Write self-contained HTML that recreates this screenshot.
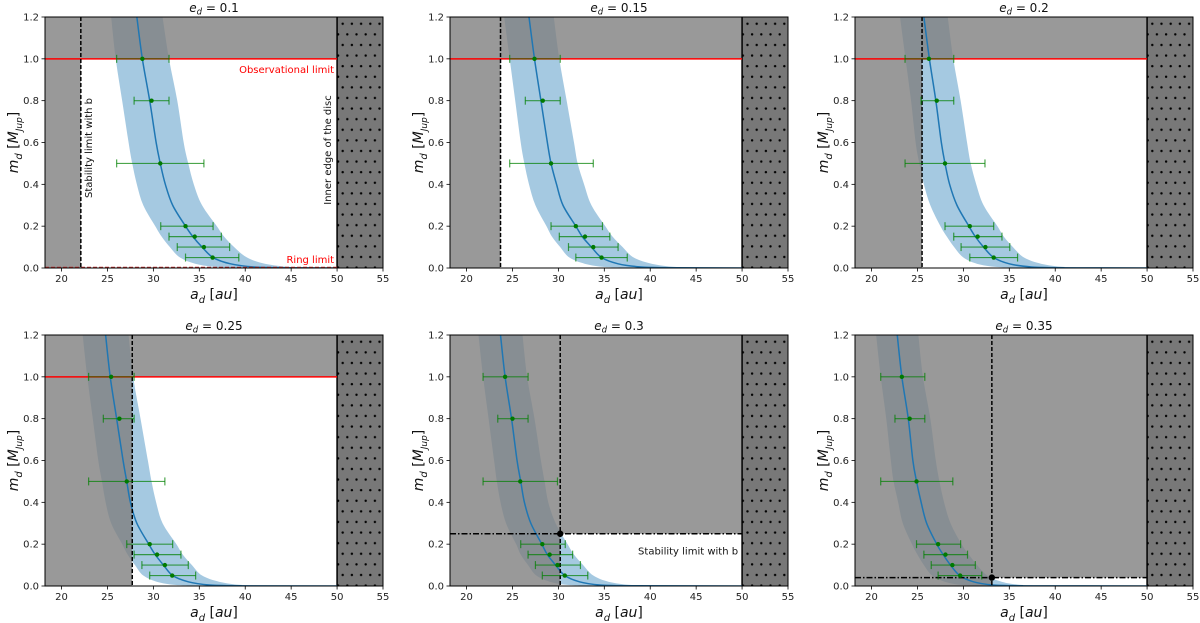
<!DOCTYPE html>
<html><head><meta charset="utf-8"><style>
html,body{margin:0;padding:0;background:#fff;}
svg{display:block;font-family:"DejaVu Sans","Liberation Sans",sans-serif;}
</style></head><body>
<svg id="fig" width="1200" height="623" viewBox="0 0 1200 623" xmlns="http://www.w3.org/2000/svg">
<defs>
<pattern id="dots" patternUnits="userSpaceOnUse" width="9.2" height="21.2" x="0" y="0">
<rect width="9.2" height="21.2" fill="#787878"/>
<circle cx="2.3" cy="2.6" r="1.2" fill="#000"/>
<circle cx="6.9" cy="13.2" r="1.2" fill="#000"/>
</pattern>
</defs>
</svg>
<script>
const mGrid=[1.2,1.0,0.8,0.6,0.5,0.4,0.3,0.2,0.15,0.1,0.05,0.02,0.005,0.001];
const eccLabels=["0.1","0.15","0.2","0.25","0.3","0.35"];
const curveCenter=[
[28.2,28.8,29.6,30.3,30.75,31.3,32.1,33.5,34.3,35.3,36.5,38.4,41.0,45.0],
[26.8,27.4,28.1,28.8,29.2,29.8,30.5,31.9,32.6,33.6,34.7,36.5,39.0,42.8],
[25.7,26.3,27.0,27.6,28.0,28.5,29.3,30.6,31.3,32.2,33.3,35.0,37.4,41.0],
[24.8,25.3,26.0,26.7,27.1,27.5,28.2,29.5,30.2,31.1,32.1,33.8,36.1,39.6],
[23.7,24.2,24.9,25.5,25.9,26.3,27.0,28.2,28.8,29.7,30.7,32.3,34.5,37.8],
[22.8,23.3,24.0,24.5,24.9,25.4,26.0,27.1,27.8,28.6,29.6,31.1,33.2,36.5]];
const bandLo=[
[25.4,25.9,26.6,27.3,27.7,28.2,28.9,30.2,30.9,31.8,32.9,34.6,36.9,40.5],
[24.1,24.7,25.3,25.9,26.3,26.8,27.5,28.7,29.3,30.2,31.2,32.9,35.1,38.5],
[23.1,23.7,24.3,24.8,25.2,25.7,26.4,27.5,28.2,29.0,30.0,31.5,33.7,36.9],
[22.3,22.8,23.4,24.0,24.4,24.8,25.4,26.6,27.2,28.0,28.9,30.4,32.5,35.6],
[21.3,21.8,22.4,23.0,23.3,23.7,24.3,25.4,25.9,26.7,27.6,29.1,31.1,34.0],
[20.5,21.0,21.6,22.1,22.4,22.9,23.4,24.4,25.0,25.7,26.6,28.0,29.9,32.9]];
const bandHi=[
[31.0,31.7,32.6,33.3,33.8,34.4,35.3,36.9,37.7,38.8,40.2,42.2,45.1,49.5],
[29.5,30.1,30.9,31.7,32.1,32.8,33.6,35.1,35.9,37.0,38.2,40.2,42.9,47.1],
[28.3,28.9,29.7,30.4,30.8,31.4,32.2,33.7,34.4,35.4,36.6,38.5,41.1,45.1],
[27.3,27.8,28.6,29.4,29.8,30.3,31.0,32.5,33.2,34.2,35.3,37.2,39.7,43.6],
[26.1,26.6,27.4,28.1,28.5,28.9,29.7,31.0,31.7,32.7,33.8,35.5,38.0,41.6],
[25.1,25.6,26.4,27.0,27.4,27.9,28.6,29.8,30.6,31.5,32.6,34.2,36.5,40.2]];
const errM=[1,0.8,0.5,0.2,0.15,0.1,0.05];
const errC=[
[28.8,29.8,30.75,33.5,34.5,35.5,36.45],
[27.4,28.3,29.2,31.9,32.9,33.8,34.7],
[26.25,27.1,28.0,30.7,31.55,32.4,33.3],
[25.4,26.3,27.1,29.6,30.4,31.25,32.05],
[24.2,25.0,25.85,28.25,29.05,29.9,30.7],
[23.3,24.15,24.9,27.25,28.05,28.8,29.65]];
const errLo=[
[26.0,27.9,26.0,30.8,31.7,32.6,33.5],
[24.7,26.4,24.7,29.2,30.1,31.1,31.9],
[23.65,25.4,23.65,28.0,28.95,29.75,30.7],
[22.95,24.55,22.95,27.1,27.9,28.75,29.6],
[21.8,23.4,21.8,25.9,26.7,27.5,28.25],
[21.0,22.55,21.0,24.9,25.7,26.5,27.25]];
const errHi=[
[31.7,31.7,35.5,36.5,37.4,38.3,39.3],
[30.2,30.2,33.8,34.8,35.6,36.5,37.5],
[28.95,28.95,32.35,33.3,34.2,35.05,35.9],
[27.9,27.9,31.25,32.1,33.0,33.8,34.6],
[26.7,26.7,29.9,30.75,31.55,32.4,33.2],
[25.8,25.8,28.85,29.7,30.45,31.3,32.0]];
const stabA=[22.1,23.7,25.5,27.7,30.2,33.1];
const stabM=[null,null,null,null,0.25,0.04];
const obsLimit=[1,1,1,1,null,null];
const discEdge=50;
const xTicks=[20,25,30,35,40,45,50,55];
const yTicks=[0,0.2,0.4,0.6,0.8,1.0,1.2];

const NS="http://www.w3.org/2000/svg";
const svg=document.getElementById('fig');
function mk(tag,attrs,parent){const e=document.createElementNS(NS,tag);for(const k in attrs)e.setAttribute(k,attrs[k]);(parent||svg).appendChild(e);return e;}
// Catmull-Rom smooth path through points (continuing an existing path if cont)
function smooth(pts,cont){
  let d=(cont?'L':'M')+pts[0][0]+','+pts[0][1];
  for(let i=0;i<pts.length-1;i++){
    const p0=pts[Math.max(0,i-1)],p1=pts[i],p2=pts[i+1],p3=pts[Math.min(pts.length-1,i+2)];
    const c1=[p1[0]+(p2[0]-p0[0])/6,p1[1]+(p2[1]-p0[1])/6];
    const c2=[p2[0]-(p3[0]-p1[0])/6,p2[1]-(p3[1]-p1[1])/6];
    d+='C'+c1[0]+','+c1[1]+' '+c2[0]+','+c2[1]+' '+p2[0]+','+p2[1];
  }
  return d;
}
const lefts=[45,450,855], tops=[17,335], W=338, H=251;
const XMIN=18.2, XMAX=55, YMIN=0, YMAX=1.2;

for(let p=0;p<6;p++){
  const L=lefts[p%3], T=tops[Math.floor(p/3)];
  const g=mk('g',{});
  
  
  const X=a=>L+(a-XMIN)/(XMAX-XMIN)*W;
  const Y=m=>T+H-(m-YMIN)/(YMAX-YMIN)*H;
  const clipId='clip'+p;
  const cp=mk('clipPath',{id:clipId},g); mk('rect',{x:L,y:T,width:W,height:H},cp);
  const pg=mk('g',{'clip-path':'url(#'+clipId+')'},g);
  // band
  const loPts=mGrid.map((m,i)=>[X(bandLo[p][i]),Y(m)]);
  const hiPts=mGrid.map((m,i)=>[X(bandHi[p][i]),Y(m)]).reverse();
  let d=smooth(loPts,false);
  d+='L'+X(discEdge)+','+Y(0)+'L'+hiPts[0][0]+','+Y(0);
  d+=smooth(hiPts,true);
  const band=mk('path',{d:d+'Z',fill:'rgba(31,119,180,0.4)'},pg);
  
  
  // gray excluded regions
  const gray='rgba(128,128,128,0.8)';
  let gd;
  if(stabM[p]===null){
    const top=obsLimit[p]!==null?obsLimit[p]:YMAX;
    gd='M'+X(XMIN)+','+Y(0)+'L'+X(stabA[p])+','+Y(0)+'L'+X(stabA[p])+','+Y(top)+'L'+X(discEdge)+','+Y(top)+'L'+X(discEdge)+','+Y(YMAX)+'L'+X(XMIN)+','+Y(YMAX)+'Z';
  } else {
    gd='M'+X(XMIN)+','+Y(0)+'L'+X(stabA[p])+','+Y(0)+'L'+X(stabA[p])+','+Y(stabM[p])+'L'+X(discEdge)+','+Y(stabM[p])+'L'+X(discEdge)+','+Y(YMAX)+'L'+X(XMIN)+','+Y(YMAX)+'Z';
  }
  const gr=mk('path',{d:gd,fill:gray},pg);
  
  
  const disc=mk('rect',{x:X(discEdge),y:T,width:L+W-X(discEdge),height:H,fill:'url(#dots)'},pg);
  
  
  mk('line',{x1:X(discEdge),x2:X(discEdge),y1:T,y2:T+H,stroke:'#000','stroke-width':1.5},pg);
  // center curve
  let cd=smooth(mGrid.map((m,i)=>[X(curveCenter[p][i]),Y(m)]),false);
  cd+='L'+X(discEdge)+','+Y(0);
  const cur=mk('path',{d:cd,fill:'none',stroke:'#1f77b4','stroke-width':1.5},pg);
  
  
  // obs limit
  if(obsLimit[p]!==null){
    const ol=mk('line',{x1:X(XMIN),x2:X(discEdge),y1:Y(obsLimit[p]),y2:Y(obsLimit[p]),stroke:'#ff0000','stroke-width':1.5},pg);
    
    
  }
  if(p===0){
    const rl=mk('line',{x1:X(XMIN),x2:X(discEdge),y1:Y(0)-0.5,y2:Y(0)-0.5,stroke:'#c03030','stroke-width':1.4,'stroke-dasharray':'4,2'},pg);
    
    
  }
  // stability line
  const sl=mk('line',{x1:X(stabA[p]),x2:X(stabA[p]),y1:Y(YMAX),y2:Y(0),stroke:'#000','stroke-width':1.5,'stroke-dasharray':'4,2'},pg);
  
  
  if(stabM[p]!==null){
    const hl=mk('line',{x1:X(XMIN),x2:X(discEdge),y1:Y(stabM[p]),y2:Y(stabM[p]),stroke:'#000','stroke-width':1.5,'stroke-dasharray':'6,2,1.5,2'},pg);
    
    
  }
  // error bars
  for(let i=0;i<errM.length;i++){
    const y=Y(errM[i]);
    const eb=mk('g',{stroke:'rgba(0,128,0,0.7)','stroke-width':1.2},pg);
    
    
    mk('line',{x1:X(errLo[p][i]),x2:X(errHi[p][i]),y1:y,y2:y},eb);
    mk('line',{x1:X(errLo[p][i]),x2:X(errLo[p][i]),y1:y-4,y2:y+4},eb);
    mk('line',{x1:X(errHi[p][i]),x2:X(errHi[p][i]),y1:y-4,y2:y+4},eb);
    const pt=mk('circle',{cx:X(errC[p][i]),cy:y,r:2.2,fill:'#007a00'},pg);
    
    
  }
  if(stabM[p]!==null){
    const sp=mk('circle',{cx:X(stabA[p]),cy:Y(stabM[p]),r:3.2,fill:'#000'},g);
    
    
  }
  // frame
  mk('rect',{x:L,y:T,width:W,height:H,fill:'none',stroke:'#000','stroke-width':1},g);
  // ticks
  for(const t of xTicks){
    const x=X(t);
    mk('line',{x1:x,x2:x,y1:T+H,y2:T+H+3.5,stroke:'#000','stroke-width':0.8},g);
    const tx=mk('text',{x:x,y:T+H+14,'font-size':10,'text-anchor':'middle',fill:'#222'},g);
    tx.textContent=t;
    
    
  }
  for(const t of yTicks){
    const y=Y(t);
    mk('line',{x1:L,x2:L-3.5,y1:y,y2:y,stroke:'#000','stroke-width':0.8},g);
    const ty=mk('text',{x:L-6,y:y+3.5,'font-size':10,'text-anchor':'end',fill:'#222'},g);
    ty.textContent=t.toFixed(1);
    
    
  }
  // title
  const tt=mk('text',{x:L+W/2,y:T-5,'font-size':12,'text-anchor':'middle',fill:'#111'},g);
  tt.innerHTML='<tspan font-style="italic">e</tspan><tspan font-size="8.5" dy="2.5" font-style="italic">d</tspan><tspan dy="-2.5"> = '+eccLabels[p]+'</tspan>';
  
  
  const xl=mk('text',{x:L+W/2,y:T+H+31,'font-size':14,'text-anchor':'middle',fill:'#111'},g);
  xl.innerHTML='<tspan font-style="italic">a</tspan><tspan font-size="10" dy="4" font-style="italic">d</tspan><tspan dy="-4"> [</tspan><tspan font-style="italic">au</tspan><tspan>]</tspan>';
  
  
  const yl=mk('text',{x:0,y:0,'font-size':14,'text-anchor':'middle',fill:'#111',transform:'translate('+(L-27)+','+(T+H/2)+') rotate(-90)'},g);
  yl.innerHTML='<tspan font-style="italic">m</tspan><tspan font-size="10" dy="4" font-style="italic">d</tspan><tspan dy="-4"> [</tspan><tspan font-style="italic">M</tspan><tspan font-size="9" dy="4" font-style="italic">Jup</tspan><tspan dy="-4">]</tspan>';
  
  
  // annotations
  if(p===0){
    const a1=mk('text',{x:X(discEdge)-3,y:Y(1)+14,'font-size':10,'text-anchor':'end',fill:'#ff0000'},g);
    a1.textContent='Observational limit';
    
    
    const a2=mk('text',{x:X(discEdge)-3,y:Y(0)-5,'font-size':10,'text-anchor':'end',fill:'#ff0000'},g);
    a2.textContent='Ring limit';
    
    
    const a3=mk('text',{x:0,y:0,'font-size':10,'text-anchor':'middle',fill:'#111',transform:'translate('+(X(stabA[p])+11)+',148) rotate(-90)'},g);
    a3.textContent='Stability limit with b';
    
    
    const a4=mk('text',{x:0,y:0,'font-size':10,'text-anchor':'middle',fill:'#111',transform:'translate('+(X(discEdge)-6)+',150) rotate(-90)'},g);
    a4.textContent='Inner edge of the disc';
    
    
  }
  if(p===4){
    const a5=mk('text',{x:X(discEdge)-4,y:Y(stabM[p])+21,'font-size':10,'text-anchor':'end',fill:'#111'},g);
    a5.textContent='Stability limit with b';
    
    
  }
}
</script>
</body></html>
